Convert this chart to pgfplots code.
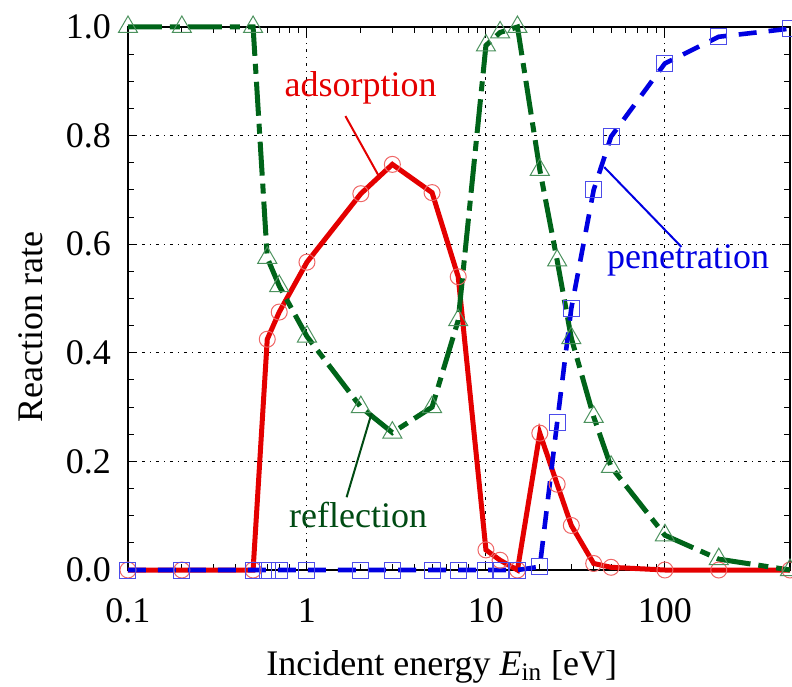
\documentclass[border=0pt]{standalone}
\usepackage{pgfplots}
\pgfplotsset{compat=1.18}
\usepackage{fontspec}
\setmainfont{Liberation Serif}

\definecolor{adsred}{RGB}{228,0,0}
\definecolor{refgreen}{RGB}{0,100,25}
\definecolor{penblue}{RGB}{0,0,225}

\begin{document}
\begin{tikzpicture}
\begin{axis}[
  scale only axis, width=331pt, height=271.5pt,
  xmode=log, xmin=0.1, xmax=500, ymin=0, ymax=1,
  xtick={0.1,1,10,100}, xticklabels={0.1,1,10,100},
  ytick={0,0.2,0.4,0.6,0.8,1.0},
  minor y tick num=3,
  /pgf/number format/assume math mode=true,
  font=\fontsize{18}{21}\selectfont,
  xticklabel style={anchor=base, yshift=-26pt},
  yticklabel style={anchor=east, xshift=-5pt,
    /pgf/number format/fixed, /pgf/number format/fixed zerofill,
    /pgf/number format/precision=1},
  grid=major,
  major grid style={black, line width=0.5pt, dash pattern=on 1.5pt off 2.5pt on 0.5pt off 2.5pt},
  axis line style={line width=0.9pt},
  tick style={black, line width=0.5pt},
  major tick length=4pt, minor tick length=3pt,
  xlabel={Incident energy \textit{E}\textsubscript{in} [eV]},
  ylabel={Reaction rate},
  xlabel style={at={(axis description cs:0.474,-0.1934)}, anchor=base},
  ylabel style={at={(axis description cs:-0.1299,0.447)}, anchor=base},
  clip=false,
]

% adsorption
\addplot[adsred, line width=2.5pt, mark=o, mark size=4pt,
  mark options={solid, line width=0.5pt, draw=adsred!60}]
  coordinates {(0.1,0) (0.2,0) (0.5,0) (0.6,0.425) (0.7,0.475) (1,0.567)
    (2,0.693) (3,0.747) (5,0.695) (7,0.54) (10,0.037) (12,0.018) (15,0)
    (20,0.252) (25,0.158) (30,0.082) (40,0.012) (50,0.005) (100,0) (200,0) (500,0)};

% reflection
\addplot[refgreen, line width=2.5pt, dash pattern=on 17pt off 4pt on 5pt off 4pt,
  mark=triangle, mark size=5.5pt,
  mark options={solid, line width=0.5pt, draw=refgreen!70!white}]
  coordinates {(0.1,1) (0.2,1) (0.5,1) (0.6,0.575) (0.7,0.523) (1,0.43)
    (2,0.30) (3,0.253) (5,0.30) (7,0.46) (10,0.966) (12,0.99) (15,1)
    (20,0.737) (25,0.57) (30,0.427) (40,0.282) (50,0.19) (100,0.064)
    (200,0.02) (500,0)};

% penetration
\addplot[penblue, line width=2.3pt, dash pattern=on 9pt off 6pt,
  mark=square, mark size=4pt,
  mark options={solid, line width=0.5pt, draw=penblue!70!white}]
  coordinates {(0.1,0) (0.2,0) (0.5,0) (0.6,0) (0.7,0) (1,0) (2,0) (3,0)
    (5,0) (7,0) (10,0) (12,0) (15,0) (20,0.006) (25,0.272) (30,0.482)
    (40,0.70) (50,0.798) (100,0.933) (200,0.982) (500,0.997)};

\node[text=adsred] at (axis cs:1.994,0.888) {adsorption};
\draw[adsred, line width=1pt] (axis cs:1.64,0.836) -- (axis cs:2.515,0.726);
\node[text=refgreen!75!black] at (axis cs:1.931,0.101) {reflection};
\draw[refgreen!75!black, line width=1pt] (axis cs:1.665,0.134) -- (axis cs:2.298,0.289);
\node[text=penblue] at (axis cs:134.6,0.571) {penetration};
\draw[penblue, line width=1pt] (axis cs:123.7,0.595) -- (axis cs:45.8,0.742);
\end{axis}
\pgfresetboundingbox
\path[use as bounding box] ([shift={(-64pt,-58pt)}]current axis.south west)
  rectangle ([shift={(332pt,285pt)}]current axis.south west);
\end{tikzpicture}
\end{document}
